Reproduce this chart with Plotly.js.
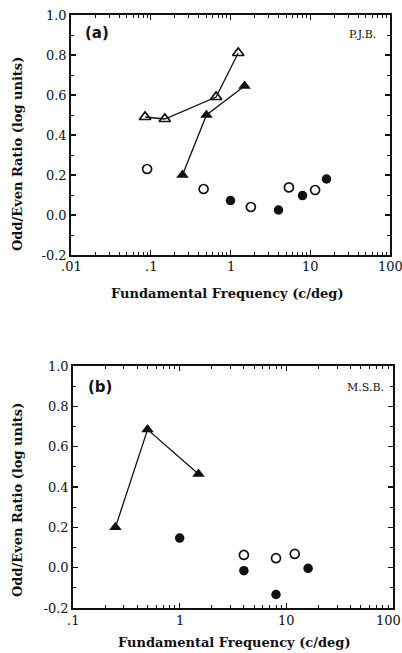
<!DOCTYPE html>
<html>
<head>
<meta charset="utf-8">
<script src="https://cdn.plot.ly/plotly-3.0.1.min.js"></script>
<style>
  html, body { margin: 0; padding: 0; background: #fff; }
  #chart { width: 402px; height: 653px; }
</style>
</head>
<body>
<div id="chart"></div>
<script>
// Panel (a), observer P.J.B.
const aOpenTriX  = [0.085, 0.15, 0.66, 1.25];
const aOpenTriY  = [0.49, 0.48, 0.59, 0.81];
const aFillTriX  = [0.25, 0.5, 1.5];
const aFillTriY  = [0.20, 0.50, 0.645];
const aOpenCircX = [0.09, 0.46, 1.8, 5.4, 11.5];
const aOpenCircY = [0.23, 0.13, 0.04, 0.138, 0.125];
const aFillCircX = [1, 4, 8, 16];
const aFillCircY = [0.072, 0.025, 0.097, 0.18];

// Panel (b), observer M.S.B.
const bFillTriX  = [0.25, 0.5, 1.5];
const bFillTriY  = [0.20, 0.685, 0.465];
const bFillCircX = [1, 4, 8, 16];
const bFillCircY = [0.147, -0.015, -0.133, -0.003];
const bOpenCircX = [4, 8, 12];
const bOpenCircY = [0.063, 0.047, 0.068];

// Tick labels
const xTickValsA = [0.01, 0.1, 1, 10, 100];
const xTickTextA = ['.01', '.1', '1', '10', '100'];
const xTickValsB = [0.1, 1, 10, 100];
const xTickTextB = ['.1', '1', '10', '100'];
const yTickVals  = [-0.2, 0, 0.2, 0.4, 0.6, 0.8, 1.0];
const yTickText  = ['-0.2', '0.0', '0.2', '0.4', '0.6', '0.8', '1.0'];
const yMinorVals = [-0.1, 0.1, 0.3, 0.5, 0.7, 0.9];

// Minor log ticks: 2..9 within each decade
function logMinor(decades) {
  const out = [];
  decades.forEach(d => { for (let m = 2; m <= 9; m++) out.push(m * d); });
  return out;
}
const xMinorA = logMinor([0.01, 0.1, 1, 10]);
const xMinorB = logMinor([0.1, 1, 10]);

const SERIF = 'DejaVu Serif, serif';
const INK = '#111';

function openTri(x, y, xa, ya) {
  return { x, y, xaxis: xa, yaxis: ya, type: 'scatter', mode: 'lines+markers',
    line: { color: INK, width: 1.3 },
    marker: { symbol: 'triangle-up-open', size: 10, color: INK, line: { width: 1.7, color: INK } } };
}
function fillTri(x, y, xa, ya) {
  return { x, y, xaxis: xa, yaxis: ya, type: 'scatter', mode: 'lines+markers',
    line: { color: INK, width: 1.3 },
    marker: { symbol: 'triangle-up', size: 11, color: INK } };
}
function openCirc(x, y, xa, ya) {
  return { x, y, xaxis: xa, yaxis: ya, type: 'scatter', mode: 'markers',
    marker: { symbol: 'circle-open', size: 9, color: INK, line: { width: 1.7, color: INK } } };
}
function fillCirc(x, y, xa, ya) {
  return { x, y, xaxis: xa, yaxis: ya, type: 'scatter', mode: 'markers',
    marker: { symbol: 'circle', size: 9.5, color: INK } };
}

const data = [
  openTri(aOpenTriX, aOpenTriY, 'x', 'y'),
  fillTri(aFillTriX, aFillTriY, 'x', 'y'),
  openCirc(aOpenCircX, aOpenCircY, 'x', 'y'),
  fillCirc(aFillCircX, aFillCircY, 'x', 'y'),
  fillTri(bFillTriX, bFillTriY, 'x2', 'y2'),
  fillCirc(bFillCircX, bFillCircY, 'x2', 'y2'),
  openCirc(bOpenCircX, bOpenCircY, 'x2', 'y2')
];

const axisCommon = {
  ticks: 'inside', ticklen: 5, tickwidth: 1.3, tickcolor: INK,
  showline: true, linecolor: INK, linewidth: 1.8, mirror: 'ticks',
  showgrid: false, zeroline: false, automargin: false,
  tickfont: { family: SERIF, size: 13, color: INK }
};

// Frequency axes: decade ticks; their labels are placed as annotations below
function xAxis(range, dom, anchor, vals, minorVals) {
  return Object.assign({}, axisCommon, {
    type: 'log', range, domain: dom, anchor, autorange: false,
    tickmode: 'array', tickvals: vals, showticklabels: false,
    minor: { tickmode: 'array', tickvals: minorVals, ticks: 'inside', ticklen: 3, tickwidth: 1, tickcolor: INK, showgrid: false }
  });
}
function yAxis(dom, anchor) {
  return Object.assign({}, axisCommon, {
    range: [-0.2, 1.0], domain: dom, anchor, autorange: false,
    tickmode: 'array', tickvals: yTickVals, ticktext: yTickText,
    minor: { tickmode: 'array', tickvals: yMinorVals, ticks: 'inside', ticklen: 3, tickwidth: 1, tickcolor: INK, showgrid: false }
  });
}

const W = 402, H = 653;
const titleFont = { family: 'DejaVu Serif, serif', size: 13, color: INK, weight: 'bold' };
const tickFont = { family: SERIF, size: 13, color: INK };

// Decade labels under each frequency axis; the last one is nudged to stay on the page
function xLabels(vals, text, xref, yPix, lastShift) {
  return vals.map((v, i) => ({
    text: text[i], xref, yref: 'paper', x: Math.log10(v), y: 1 - yPix / H,
    xanchor: 'center', yanchor: 'middle', showarrow: false, font: tickFont,
    xshift: i === vals.length - 1 ? lastShift : 0
  }));
}

const layout = {
  width: W, height: H,
  margin: { l: 0, r: 0, t: 0, b: 0 },
  paper_bgcolor: '#fff', plot_bgcolor: '#fff',
  showlegend: false,
  xaxis:  xAxis([-2, 2], [71 / W, 390 / W], 'y', xTickValsA, xMinorA),
  yaxis:  yAxis([1 - 255 / H, 1 - 15 / H], 'x'),
  xaxis2: xAxis([-1, 2], [73 / W, 393 / W], 'y2', xTickValsB, xMinorB),
  yaxis2: yAxis([1 - 608 / H, 1 - 366 / H], 'x2'),
  annotations: [
    { text: '(a)', xref: 'paper', yref: 'paper', x: 83 / W, y: 1 - 33 / H, xanchor: 'left', yanchor: 'middle',
      showarrow: false, font: { family: 'DejaVu Sans, sans-serif', size: 15, color: INK, weight: 'bold' } },
    { text: 'P.J.B.', xref: 'paper', yref: 'paper', x: 378 / W, y: 1 - 34 / H, xanchor: 'right', yanchor: 'middle',
      showarrow: false, font: { family: SERIF, size: 11, color: INK } },
    { text: '(b)', xref: 'paper', yref: 'paper', x: 86 / W, y: 1 - 387 / H, xanchor: 'left', yanchor: 'middle',
      showarrow: false, font: { family: 'DejaVu Sans, sans-serif', size: 15, color: INK, weight: 'bold' } },
    { text: 'M.S.B.', xref: 'paper', yref: 'paper', x: 386 / W, y: 1 - 387 / H, xanchor: 'right', yanchor: 'middle',
      showarrow: false, font: { family: SERIF, size: 11, color: INK } },
    { text: 'Fundamental Frequency (c/deg)', xref: 'paper', yref: 'paper', x: 227 / W, y: 1 - 293 / H,
      xanchor: 'center', yanchor: 'middle', showarrow: false, font: titleFont },
    { text: 'Fundamental Frequency (c/deg)', xref: 'paper', yref: 'paper', x: 234 / W, y: 1 - 642 / H,
      xanchor: 'center', yanchor: 'middle', showarrow: false, font: titleFont },
    { text: 'Odd/Even Ratio (log units)', xref: 'paper', yref: 'paper', x: 17 / W, y: 1 - 154 / H,
      xanchor: 'center', yanchor: 'middle', textangle: -90, showarrow: false, font: titleFont },
    { text: 'Odd/Even Ratio (log units)', xref: 'paper', yref: 'paper', x: 17 / W, y: 1 - 500 / H,
      xanchor: 'center', yanchor: 'middle', textangle: -90, showarrow: false, font: titleFont }
  ].concat(xLabels(xTickValsA, xTickTextA, 'x', 266, 0), xLabels(xTickValsB, xTickTextB, 'x2', 620, -5))
};

Plotly.newPlot('chart', data, layout, { staticPlot: true, displayModeBar: false });
</script>
</body>
</html>
